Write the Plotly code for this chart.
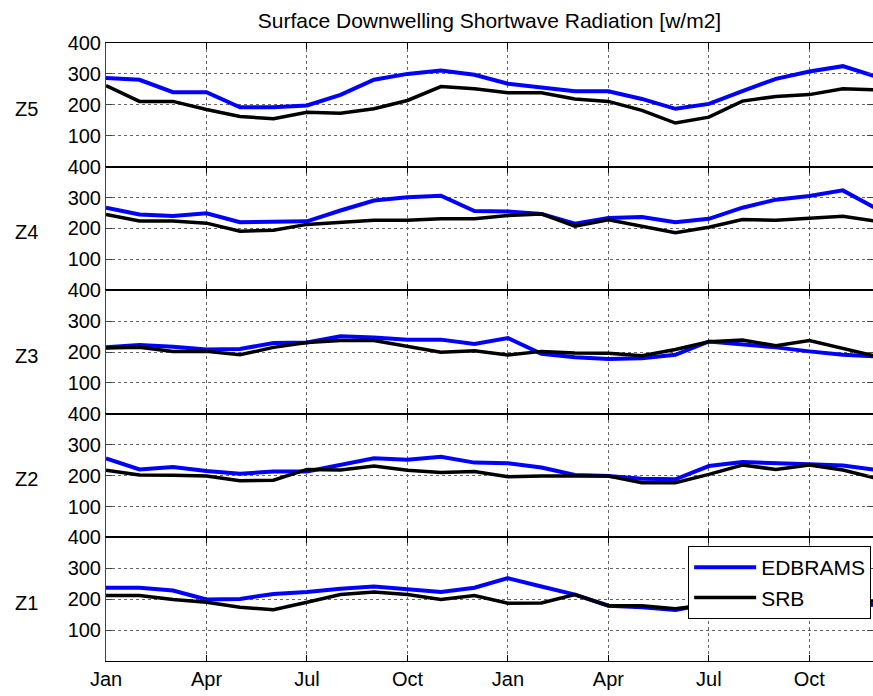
import plotly.graph_objects as go
from plotly.subplots import make_subplots

# Monatswerte, zwei Jahre (Jan .. Dez, Jan .. Dez)
months = list(range(24))
tick_pos = [0, 3, 6, 9, 12, 15, 18, 21]
tick_text = ["Jan", "Apr", "Jul", "Oct", "Jan", "Apr", "Jul", "Oct"]

zones = ["Z5", "Z4", "Z3", "Z2", "Z1"]

z5_edbrams = [287, 281, 241, 241, 192, 192, 198, 232, 281, 300, 311, 297,
              268, 257, 244, 244, 219, 187, 203, 244, 284, 308, 325, 291]
z5_srb = [262, 211, 211, 185, 162, 155, 176, 173, 187, 214, 259, 252,
          239, 239, 219, 211, 182, 141, 160, 212, 227, 233, 252, 248]

z4_edbrams = [267, 245, 240, 249, 220, 223, 223, 258, 290, 301, 306, 256,
              255, 247, 215, 234, 237, 220, 231, 267, 293, 305, 323, 264]
z4_srb = [245, 224, 224, 217, 191, 194, 213, 220, 226, 226, 231, 231,
          242, 247, 207, 228, 206, 186, 204, 229, 226, 233, 239, 223]

z3_edbrams = [215, 223, 217, 208, 210, 229, 231, 251, 247, 240, 240, 226,
              245, 194, 183, 177, 180, 191, 234, 226, 215, 202, 191, 186]
z3_srb = [213, 215, 202, 202, 191, 215, 231, 237, 237, 218, 199, 204,
          190, 202, 197, 196, 188, 208, 233, 239, 220, 237, 210, 186]

z2_edbrams = [256, 220, 228, 215, 206, 213, 213, 233, 256, 251, 261, 242,
              240, 226, 202, 199, 190, 188, 231, 244, 242, 237, 233, 218]
z2_srb = [217, 202, 201, 199, 183, 185, 220, 218, 231, 217, 210, 213,
          196, 199, 199, 199, 177, 177, 204, 234, 220, 234, 218, 191]

z1_edbrams = [237, 237, 228, 199, 201, 217, 223, 234, 241, 231, 223, 237,
              268, 241, 215, 179, 174, 165, 185, 195, 195, 179, 170, 183]
z1_srb = [212, 212, 199, 190, 174, 166, 190, 215, 223, 215, 199, 212,
          187, 188, 215, 179, 179, 169, 183, 190, 195, 185, 182, 196]

edbrams = [z5_edbrams, z4_edbrams, z3_edbrams, z2_edbrams, z1_edbrams]
srb = [z5_srb, z4_srb, z3_srb, z2_srb, z1_srb]

FONT = "Liberation Sans, Arial, Helvetica, sans-serif"

fig = make_subplots(rows=5, cols=1, shared_xaxes=True, vertical_spacing=0)

for i in range(5):
    row = i + 1
    fig.add_trace(go.Scatter(x=months, y=edbrams[i], mode="lines", name="EDBRAMS",
                             line=dict(color="#0000ff", width=4),
                             showlegend=(i == 0), legendrank=1), row=row, col=1)
    fig.add_trace(go.Scatter(x=months, y=srb[i], mode="lines", name="SRB",
                             line=dict(color="black", width=3.5),
                             showlegend=(i == 0), legendrank=2), row=row, col=1)
    # Zonen-Beschriftung links
    yref = "y domain" if row == 1 else "y%d domain" % row
    fig.add_annotation(text=zones[i], xref="paper", yref=yref, x=-0.104, y=0.47,
                       showarrow=False, xanchor="center", yanchor="middle",
                       font=dict(size=20, color="black", family=FONT))

fig.update_xaxes(range=[0, 22.9], tickvals=tick_pos, ticktext=tick_text,
                 showgrid=True, gridcolor="#666", griddash="dot", gridwidth=1,
                 showline=True, linecolor="black", linewidth=1, mirror="ticks",
                 ticks="inside", ticklen=6, tickcolor="black", zeroline=False,
                 tickfont=dict(size=20, color="black", family=FONT))
fig.update_yaxes(range=[0, 400], tickvals=[100, 200, 300, 400],
                 showgrid=True, gridcolor="#666", griddash="dot", gridwidth=1,
                 showline=True, linecolor="#444", linewidth=1, mirror="ticks",
                 ticks="inside", ticklen=6, tickcolor="#444", zeroline=False,
                 tickfont=dict(size=20, color="black", family=FONT))

fig.update_layout(
    width=873, height=696,
    margin=dict(l=106, r=0, t=43, b=35),
    plot_bgcolor="white", paper_bgcolor="white",
    title=dict(text="Surface Downwelling Shortwave Radiation [w/m2]",
               x=0.5, xref="paper", xanchor="center", y=0.971, yanchor="middle",
               font=dict(size=21, color="black", family=FONT)),
    legend=dict(x=0.759, y=0.186, xanchor="left", yanchor="top",
                bgcolor="white", bordercolor="black", borderwidth=1,
                font=dict(size=21, color="black", family=FONT),
                itemwidth=62, traceorder="normal"),
    font=dict(family=FONT),
)

# Browser-Rand und Scrollbalken weg, damit die Grafik genau ins Fenster passt
fig.write_html("out.html", config={"displayModeBar": False},
               post_script="document.body.style.margin='0';"
                           "document.body.style.overflow='hidden';")
